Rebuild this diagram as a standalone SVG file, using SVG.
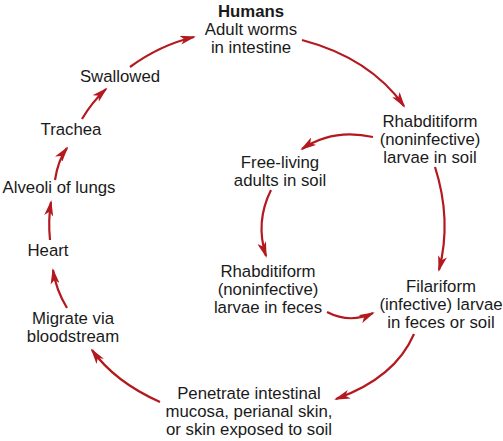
<svg xmlns="http://www.w3.org/2000/svg" width="503" height="441" viewBox="0 0 503 441">
<style>
text{font-family:"Liberation Sans",Arial,Helvetica,sans-serif;font-size:16.8px;fill:#1a1a1a;text-anchor:middle}
.b{font-weight:bold}
.c{fill:none;stroke:#b3191f;stroke-width:2.2}
</style>
<defs>
<marker id="ah" viewBox="0 0 16 9" markerWidth="16" markerHeight="9" refX="14" refY="4.5" orient="auto" markerUnits="userSpaceOnUse">
<path d="M0,0 L16,4.5 L0,9 L4,4.5 z" fill="#b3191f"/>
</marker>
</defs>
<rect width="503" height="441" fill="#fff"/>
<g id="connectors">
<path class="c" marker-end="url(#ah)" d="M302,40 Q370,58 404,106"/>
<path class="c" marker-end="url(#ah)" d="M373,137 Q333,128 302,149"/>
<path class="c" marker-end="url(#ah)" d="M435,167 Q452,220 439,270"/>
<path class="c" marker-end="url(#ah)" d="M271,190 Q255,222 266,256"/>
<path class="c" marker-end="url(#ah)" d="M327,312 Q350,324 373,313"/>
<path class="c" marker-end="url(#ah)" d="M414,334 Q395,378 336,399"/>
<path class="c" marker-end="url(#ah)" d="M160,402 Q115,382 92,350"/>
<path class="c" marker-end="url(#ah)" d="M67,308 Q56,290 53,270"/>
<path class="c" marker-end="url(#ah)" d="M50,240 Q48,220 51,202"/>
<path class="c" marker-end="url(#ah)" d="M55,180 Q58,160 67,148"/>
<path class="c" marker-end="url(#ah)" d="M82,119 Q92,102 106,89"/>
<path class="c" marker-end="url(#ah)" d="M130,67 Q160,45 194,37"/>
</g>
<g id="humans"><text x="251" y="17" class="b">Humans</text><text x="251" y="35">Adult worms</text><text x="251" y="53">in intestine</text></g>
<g id="rhab-soil"><text x="430" y="127">Rhabditiform</text><text x="430" y="145">(noninfective)</text><text x="430" y="163">larvae in soil</text></g>
<g id="free-living"><text x="280" y="168">Free-living</text><text x="280" y="186">adults in soil</text></g>
<g id="rhab-feces"><text x="268" y="277">Rhabditiform</text><text x="268" y="295">(noninfective)</text><text x="268" y="313">larvae in feces</text></g>
<g id="filariform"><text x="441" y="292">Filariform</text><text x="441" y="310">(infective) larvae</text><text x="441" y="328">in feces or soil</text></g>
<g id="penetrate"><text x="249" y="399">Penetrate intestinal</text><text x="249" y="417">mucosa, perianal skin,</text><text x="249" y="435">or skin exposed to soil</text></g>
<g id="migrate"><text x="73" y="324">Migrate via</text><text x="73" y="342">bloodstream</text></g>
<g id="heart"><text x="48" y="256">Heart</text></g>
<g id="alveoli"><text x="59" y="193">Alveoli of lungs</text></g>
<g id="trachea"><text x="71" y="135">Trachea</text></g>
<g id="swallowed"><text x="120" y="82">Swallowed</text></g>
</svg>
